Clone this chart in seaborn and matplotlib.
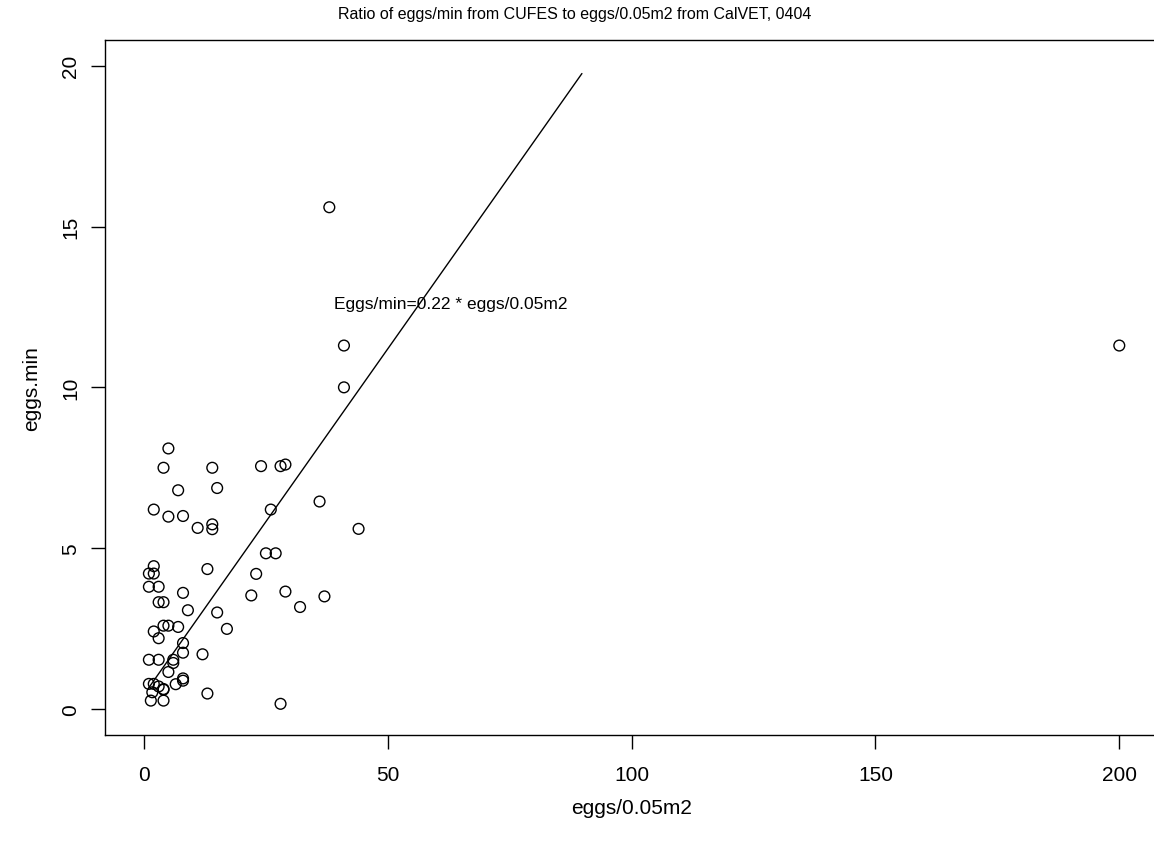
import matplotlib
matplotlib.use("Agg")
import matplotlib.pyplot as plt
import seaborn as sns
import pandas as pd
import numpy as np

# ---- data ----
eggs_m2 = [5, 4, 14, 24, 28, 29, 7, 15, 2, 5, 8, 11, 14, 14, 26, 36, 44, 25, 27, 23,
           22, 13, 29, 37, 32, 2, 1, 2, 1, 3, 3, 4, 8, 9, 15, 17, 4, 5, 7, 2,
           3, 8, 8, 12, 1, 3, 6, 6, 5, 8, 8, 6.5, 4, 1, 2, 3, 1.7, 4, 1.4, 4,
           13, 28, 41, 41, 38, 200]
eggs_min = [8.1, 7.5, 7.5, 7.55, 7.55, 7.6, 6.8, 6.87, 6.2, 5.98, 6.0, 5.63, 5.74, 5.59, 6.2, 6.45, 5.6, 4.84, 4.84, 4.2,
            3.53, 4.35, 3.65, 3.5, 3.17, 4.44, 4.21, 4.21, 3.8, 3.8, 3.32, 3.32, 3.61, 3.07, 3.0, 2.49, 2.59, 2.59, 2.55, 2.41,
            2.2, 2.05, 1.75, 1.7, 1.53, 1.53, 1.53, 1.43, 1.15, 0.95, 0.88, 0.77, 0.62, 0.78, 0.78, 0.7, 0.52, 0.6, 0.26, 0.26,
            0.48, 0.16, 11.3, 10.0, 15.6, 11.3]

fit_slope = 0.215
fit_intercept = 0.45
fit_x = [0.9, 89.8]

title = "Ratio of eggs/min from CUFES to eggs/0.05m2 from CalVET, 0404"
xlabel = "eggs/0.05m2"
ylabel = "eggs.min"
note = "Eggs/min=0.22 * eggs/0.05m2"
xticks = [0, 50, 100, 150, 200]
yticks = [0, 5, 10, 15, 20]

df = pd.DataFrame({"x": eggs_m2, "y": eggs_min})
line_df = pd.DataFrame({"x": fit_x, "y": [fit_intercept + fit_slope * v for v in fit_x]})

sns.set_style("white")
plt.rcParams['font.family'] = ['Liberation Sans', 'DejaVu Sans']
plt.rcParams['text.color'] = 'black'
plt.rcParams['axes.labelcolor'] = 'black'
plt.rcParams['xtick.color'] = 'black'
plt.rcParams['ytick.color'] = 'black'

fig = plt.figure(figsize=(11.54, 8.45), dpi=100)
ax = fig.add_axes([105 / 1154, (845 - 735.7) / 845, 1053.3 / 1154, (735.7 - 41) / 845])

sns.scatterplot(data=df, x="x", y="y", ax=ax, marker="o", s=60,
                facecolors="none", edgecolor="black", linewidth=1.0, legend=False)
sns.lineplot(data=line_df, x="x", y="y", ax=ax, color="black", linewidth=1.0, legend=False)

ax.text(63, 12.6, note, ha="center", va="center", fontsize=12.5, color="black")

ax.set_xlim(-8, 208)
ax.set_ylim(-0.8, 20.8)
ax.set_xticks(xticks)
ax.set_yticks(yticks)
ax.set_xticklabels([str(t) for t in xticks], fontsize=15)
ax.set_yticklabels([str(t) for t in yticks], fontsize=15, rotation=90, va="center")
ax.tick_params(axis="both", direction="out", length=10, width=1, color="black",
               bottom=True, left=True, labelcolor="black")
ax.tick_params(axis="x", pad=12)
ax.tick_params(axis="y", pad=8)

for name, sp in ax.spines.items():
    sp.set_visible(name != "right")
    sp.set_color("black")
    sp.set_linewidth(1.0)

ax.set_xlabel(xlabel, fontsize=15, labelpad=10)
ax.set_ylabel(ylabel, fontsize=15, labelpad=14)
fig.text(0.498, 1 - 15 / 845, title, ha="center", va="center", fontsize=11.5, color="black")

fig.savefig("out.png", dpi=100)
